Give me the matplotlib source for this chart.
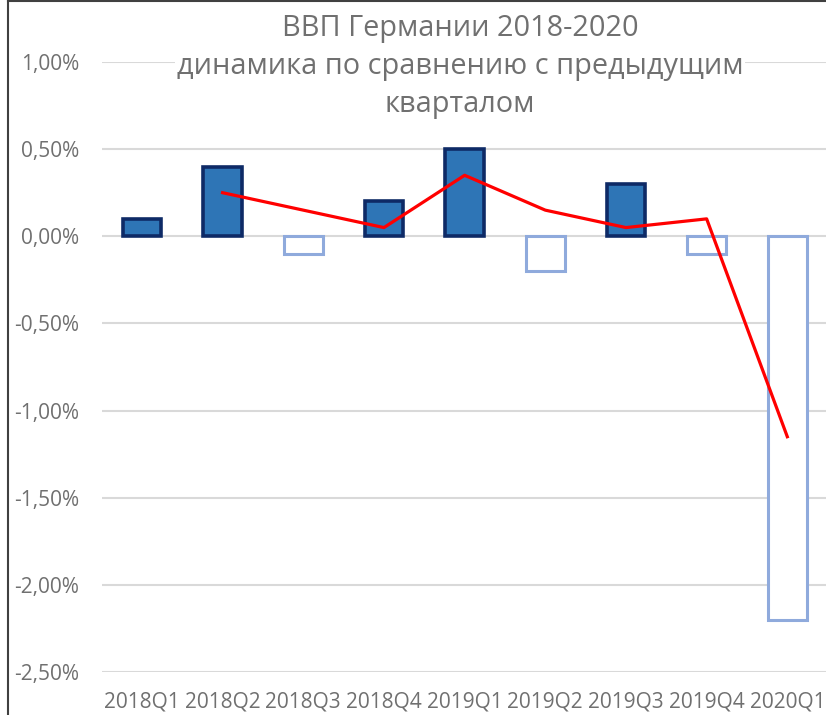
import matplotlib.pyplot as plt
from matplotlib.lines import Line2D
from matplotlib.ticker import FuncFormatter

quarters = ["2018Q1", "2018Q2", "2018Q3", "2018Q4", "2019Q1",
            "2019Q2", "2019Q3", "2019Q4", "2020Q1"]
gdp_change = [0.1, 0.4, -0.1, 0.2, 0.5, -0.2, 0.3, -0.1, -2.2]
# скользящее среднее (2 периода), начиная со второго квартала
trend_x = quarters[1:]
trend_vals = [0.25, 0.15, 0.05, 0.35, 0.15, 0.05, 0.10, -1.15]

title = "ВВП Германии 2018-2020\nдинамика по сравнению с предыдущим\nкварталом"

plt.rcParams['font.family'] = ['Open Sans', 'DejaVu Sans']
grey = "#707070"

fig = plt.figure(figsize=(8.26, 7.15), dpi=100)
ax = fig.add_axes([0.123, 0.0601, 0.879, 0.8532])

x = list(range(len(quarters)))
pos_x = [i for i, v in zip(x, gdp_change) if v >= 0]
pos_v = [v for v in gdp_change if v >= 0]
neg_x = [i for i, v in zip(x, gdp_change) if v < 0]
neg_v = [v for v in gdp_change if v < 0]

ax.bar(pos_x, pos_v, width=0.48, color="#2E75B6", edgecolor="#0E2A66",
       linewidth=2.6, zorder=2)
ax.bar(neg_x, neg_v, width=0.48, color="white", edgecolor="#8FAADC",
       linewidth=2.2, zorder=2)
ax.plot([quarters.index(q) for q in trend_x], trend_vals, color="#FF0000",
        lw=2.3, zorder=3)

ax.set_xlim(-0.5, len(quarters) - 0.5)
ax.set_ylim(-2.5, 1.0)
ax.set_yticks([1.0, 0.5, 0.0, -0.5, -1.0, -1.5, -2.0, -2.5])
ax.yaxis.set_major_formatter(FuncFormatter(lambda v, p: f"{v:.2f}%".replace(".", ",")))
ax.set_xticks(x)
ax.set_xticklabels(quarters)
ax.grid(axis="y", color="#D9D9D9", lw=1.5, zorder=0)
ax.set_axisbelow(True)
for s in ax.spines.values():
    s.set_visible(False)
ax.tick_params(axis="both", length=0, labelsize=15, colors=grey)
ax.tick_params(axis="y", pad=16)
ax.tick_params(axis="x", pad=14)

fig.text(0.557, 0.981, title, ha="center", va="top", fontsize=20.8,
         color=grey, linespacing=1.42,
         bbox=dict(facecolor="white", edgecolor="none", pad=1))

# рамка диаграммы слева и сверху
fig.add_artist(Line2D([8 / 826, 8 / 826], [0, 1], color="#404040", lw=1.5))
fig.add_artist(Line2D([8 / 826, 1], [1 - 1 / 715, 1 - 1 / 715], color="#404040", lw=1.5))

fig.savefig("out.png", dpi=100)
